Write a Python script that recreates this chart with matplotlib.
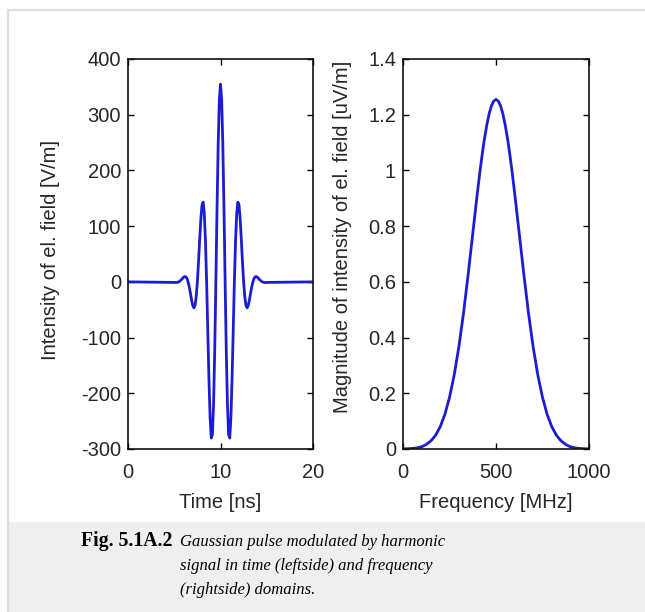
import matplotlib.pyplot as plt
from matplotlib.patches import Rectangle
from matplotlib.lines import Line2D

# time domain: Gaussian pulse modulated by harmonic signal
cas_ns = [0, 5.0, 5.25, 5.5, 5.75, 6.0, 6.125, 6.25, 6.375, 6.5, 6.625, 6.75,
          6.875, 7.0, 7.125, 7.25, 7.375, 7.5, 7.625, 7.75, 7.875, 8.0, 8.125,
          8.25, 8.375, 8.5, 8.625, 8.75, 8.875, 9.0, 9.125, 9.25, 9.375, 9.5,
          9.625, 9.75, 9.875, 10.0, 10.125, 10.25, 10.375, 10.5, 10.625, 10.75,
          10.875, 11.0, 11.125, 11.25, 11.375, 11.5, 11.625, 11.75, 11.875,
          12.0, 12.125, 12.25, 12.375, 12.5, 12.625, 12.75, 12.875, 13.0,
          13.125, 13.25, 13.375, 13.5, 13.625, 13.75, 13.875, 14.0, 14.25,
          14.5, 14.75, 15.0, 20]
pole_Vm = [0, -1, -1.2, 0, 3.5, 8.1, 9.5, 9.1, 6.1, 0, -9.2, -20.7, -32.7,
           -42.4, -46.6, -42.1, -26.7, 0, 35.9, 76.0, 113.0, 138.1, 143.0,
           121.9, 72.9, 0, -87.0, -173.6, -243.3, -280.4, -273.8, -219.8,
           -123.9, 0, 131.4, 247.4, 326.8, 355.0, 326.8, 247.4, 131.4, 0,
           -123.9, -219.8, -273.8, -280.4, -243.3, -173.6, -87.0, 0, 72.9,
           121.9, 143.0, 138.1, 113.0, 76.0, 35.9, 0, -26.7, -42.1, -46.6,
           -42.4, -32.7, -20.7, -9.2, 0, 6.1, 9.1, 9.5, 8.1, 3.5, 0, -1.2, -1, 0]

# frequency domain: magnitude spectrum
frekv_MHz = [0, 25, 50, 75, 100, 125, 150, 175, 200, 225, 250, 275, 300, 325,
             350, 375, 400, 412.5, 425, 437.5, 450, 462.5, 475, 487.5, 500,
             512.5, 525, 537.5, 550, 562.5, 575, 587.5, 600, 625, 650, 675,
             700, 725, 750, 775, 800, 825, 850, 875, 900, 925, 950, 975, 1000]
spektrum_uVm = [0, 0.001, 0.002, 0.004, 0.008, 0.016, 0.029, 0.049, 0.080,
                0.124, 0.185, 0.265, 0.365, 0.486, 0.625, 0.773, 0.920, 0.990,
                1.054, 1.112, 1.161, 1.2015, 1.231, 1.249, 1.255, 1.249, 1.231,
                1.2015, 1.161, 1.112, 1.054, 0.990, 0.920, 0.773, 0.625, 0.486,
                0.365, 0.265, 0.185, 0.124, 0.080, 0.049, 0.029, 0.016, 0.008,
                0.004, 0.002, 0.001, 0]

plt.rcParams['font.family'] = ['Liberation Sans', 'DejaVu Sans']
plt.rcParams['axes.unicode_minus'] = False
W, H = 645, 612
fig = plt.figure(figsize=(W / 100, H / 100), dpi=100)
fig.patch.set_facecolor('white')

# frame and caption panel
fig.add_artist(Rectangle((9 / W, 0), (W - 9) / W, (H - 522) / H,
                         transform=fig.transFigure, facecolor='#efefef',
                         edgecolor='none', zorder=0))
fig.add_artist(Line2D([8 / W, 1], [1 - 10 / H, 1 - 10 / H], transform=fig.transFigure,
                      color='#dcdcdc', lw=1.6))
fig.add_artist(Line2D([8 / W, 8 / W], [0, 1 - 10 / H], transform=fig.transFigure,
                      color='#dcdcdc', lw=1.6))

modra = '#1c1cd2'
fs = 14.5
sedy = '#262626'

ax1 = fig.add_axes([128 / W, 1 - 449 / H, 185 / W, 390 / H])
ax1.plot(cas_ns, pole_Vm, color=modra, lw=2.0)
ax1.set_xlim(0, 20)
ax1.set_ylim(-300, 400)
ax1.set_xticks([0, 10, 20])
ax1.set_yticks([-300, -200, -100, 0, 100, 200, 300, 400])
ax1.set_xlabel('Time [ns]', fontsize=fs, color=sedy)
ax1.set_ylabel('Intensity of el. field [V/m]', fontsize=fs, color=sedy)
ax1.xaxis.set_label_coords(0.5, -0.113)
ax1.yaxis.set_label_coords((60 - 128) / 185, 0.51)

ax2 = fig.add_axes([403 / W, 1 - 449 / H, 186 / W, 390 / H])
ax2.plot(frekv_MHz, spektrum_uVm, color=modra, lw=2.0)
ax2.set_xlim(0, 1000)
ax2.set_ylim(0, 1.4)
ax2.set_xticks([0, 500, 1000])
ax2.set_yticks([0, 0.2, 0.4, 0.6, 0.8, 1.0, 1.2, 1.4])
ax2.set_yticklabels(['0', '0.2', '0.4', '0.6', '0.8', '1', '1.2', '1.4'])
ax2.set_xlabel('Frequency [MHz]', fontsize=fs, color=sedy)
ax2.set_ylabel('Magnitude of intensity of el. field [uV/m]', fontsize=fs, color=sedy)
ax2.xaxis.set_label_coords(0.5, -0.113)
ax2.yaxis.set_label_coords((352 - 403) / 186, 0.544)

for ax in (ax1, ax2):
    ax.tick_params(direction='in', top=True, right=True, length=4, width=1,
                   labelsize=fs, labelcolor=sedy)
    ax.tick_params(axis='y', pad=5)
    ax.tick_params(axis='x', pad=10)
    for s in ax.spines.values():
        s.set_linewidth(1.2)
        s.set_color('#111111')

# caption
fig.text(81 / W, 1 - 546 / H, 'Fig. 5.1A.2', family='Liberation Serif',
         weight='bold', fontsize=14.2, va='baseline')
radky = ['Gaussian pulse modulated by harmonic',
         'signal in time (leftside) and frequency',
         '(rightside) domains.']
for i, r in enumerate(radky):
    fig.text(180 / W, 1 - (546 + 24 * i) / H, r, family='Liberation Serif',
             style='italic', fontsize=12, va='baseline')

fig.savefig('out.png', dpi=100)
